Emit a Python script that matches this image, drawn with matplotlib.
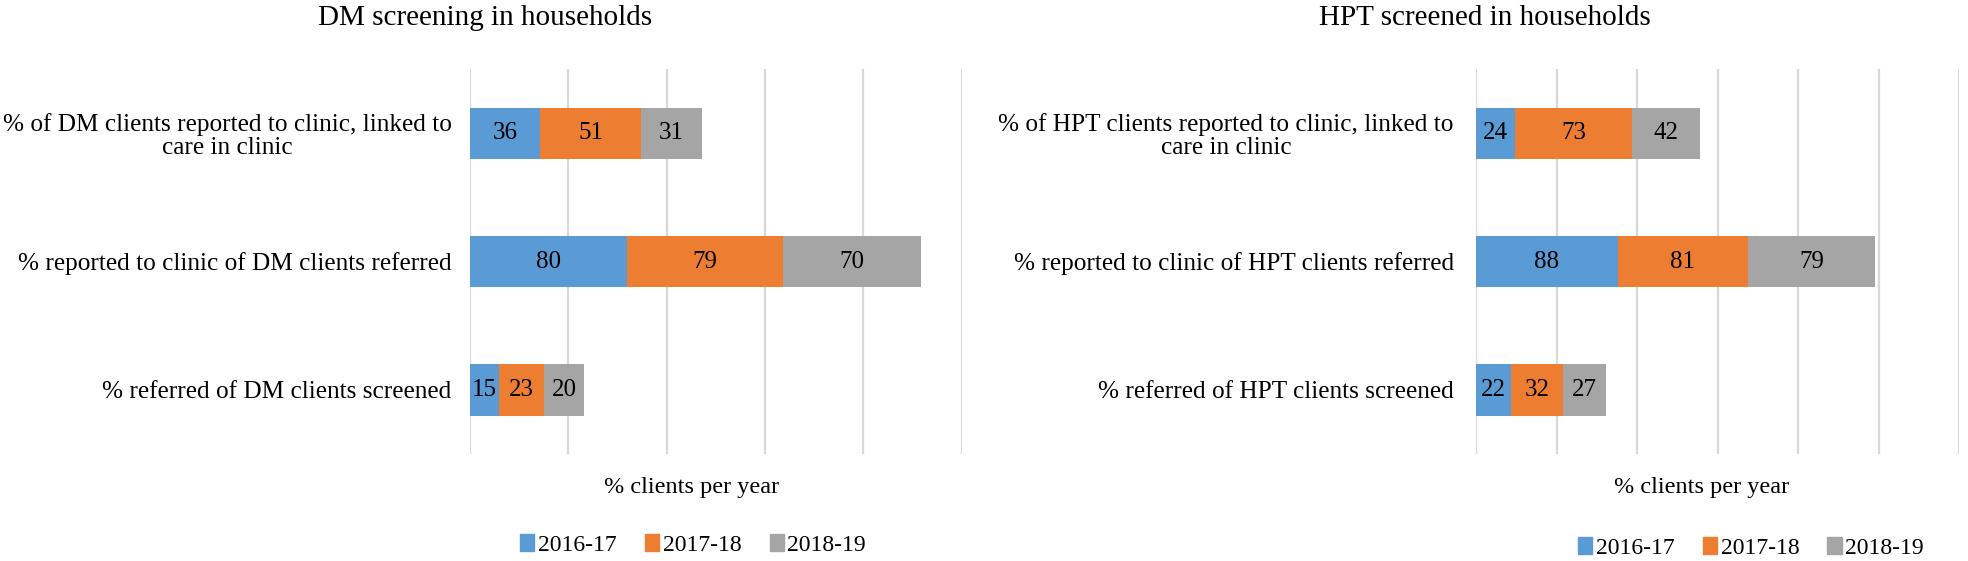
import matplotlib
matplotlib.use("Agg")
import matplotlib.pyplot as plt
from matplotlib.patches import Patch

plt.rcParams['font.family'] = ['Liberation Serif', 'DejaVu Serif']

years = ['2016-17', '2017-18', '2018-19']
colors = ['#5B9BD5', '#ED7D31', '#A5A5A5']

dm_labels = ['% referred of DM clients screened',
             '% reported to clinic of DM clients referred',
             '% of DM clients reported to clinic, linked to\ncare in clinic']
dm_2016 = [15, 80, 36]
dm_2017 = [23, 79, 51]
dm_2018 = [20, 70, 31]

hpt_labels = ['% referred of HPT clients screened',
              '% reported to clinic of HPT clients referred',
              '% of HPT clients reported to clinic, linked to\ncare in clinic']
hpt_2016 = [22, 88, 24]
hpt_2017 = [32, 81, 73]
hpt_2018 = [27, 79, 42]

W, H = 1968, 561
fig = plt.figure(figsize=(W / 100, H / 100), dpi=100)


def draw_panel(rect, labels, series, xmax, pad):
    ax = fig.add_axes(rect)
    y = list(range(len(labels)))
    left = [0] * len(labels)
    for vals, c in zip(series, colors):
        bars = ax.barh(y, vals, left=left, height=0.4, color=c, zorder=3)
        for b, v in zip(bars, vals):
            ax.text(b.get_x() + b.get_width() / 2, b.get_y() + b.get_height() / 2,
                    str(v), ha='center', va='center', fontsize=18, color='black', zorder=4)
        left = [l + v for l, v in zip(left, vals)]
    ax.set_xlim(0, xmax)
    ax.set_ylim(-0.5, len(labels) - 0.5)
    ax.set_xticks(range(0, xmax + 1, 50))
    ax.set_xticklabels([])
    ax.grid(axis='x', color='#D9D9D9', linewidth=1.6, zorder=0)
    ax.set_yticks(y)
    ax.set_yticklabels(labels, fontsize=18.2, linespacing=1.05)
    for t in ax.get_yticklabels():
        t.set_multialignment('center')
    ax.tick_params(axis='both', length=0)
    ax.tick_params(axis='y', pad=pad)
    for s in ax.spines.values():
        s.set_visible(False)
    return ax


draw_panel([469.5 / W, 1 - 454 / H, (962 - 469.5) / W, (454 - 69) / H],
           dm_labels, [dm_2016, dm_2017, dm_2018], 250, 13)
draw_panel([1476 / W, 1 - 454 / H, (1959 - 1476) / W, (454 - 69) / H],
           hpt_labels, [hpt_2016, hpt_2017, hpt_2018], 300, 16)

fig.text(485 / W, 1 - 18 / H, 'DM screening in households', ha='center', va='center', fontsize=21)
fig.text(1485 / W, 1 - 18 / H, 'HPT screened in households', ha='center', va='center', fontsize=21)

fig.text(692 / W, 1 - 487 / H, '% clients per year', ha='center', va='center', fontsize=17.5)
fig.text(1702 / W, 1 - 487 / H, '% clients per year', ha='center', va='center', fontsize=17.5)

handles = [Patch(color=c, label=yr) for c, yr in zip(colors, years)]
fig.legend(handles=handles, loc='center', bbox_to_anchor=(693 / W, 1 - 545 / H), ncol=3,
           frameon=False, fontsize=17, handlelength=0.6, handleheight=0.7,
           handletextpad=0.15, columnspacing=1.2)
fig.legend(handles=handles, loc='center', bbox_to_anchor=(1751 / W, 1 - 548 / H), ncol=3,
           frameon=False, fontsize=17, handlelength=0.6, handleheight=0.7,
           handletextpad=0.15, columnspacing=1.2)

fig.savefig('out.png', dpi=100)
